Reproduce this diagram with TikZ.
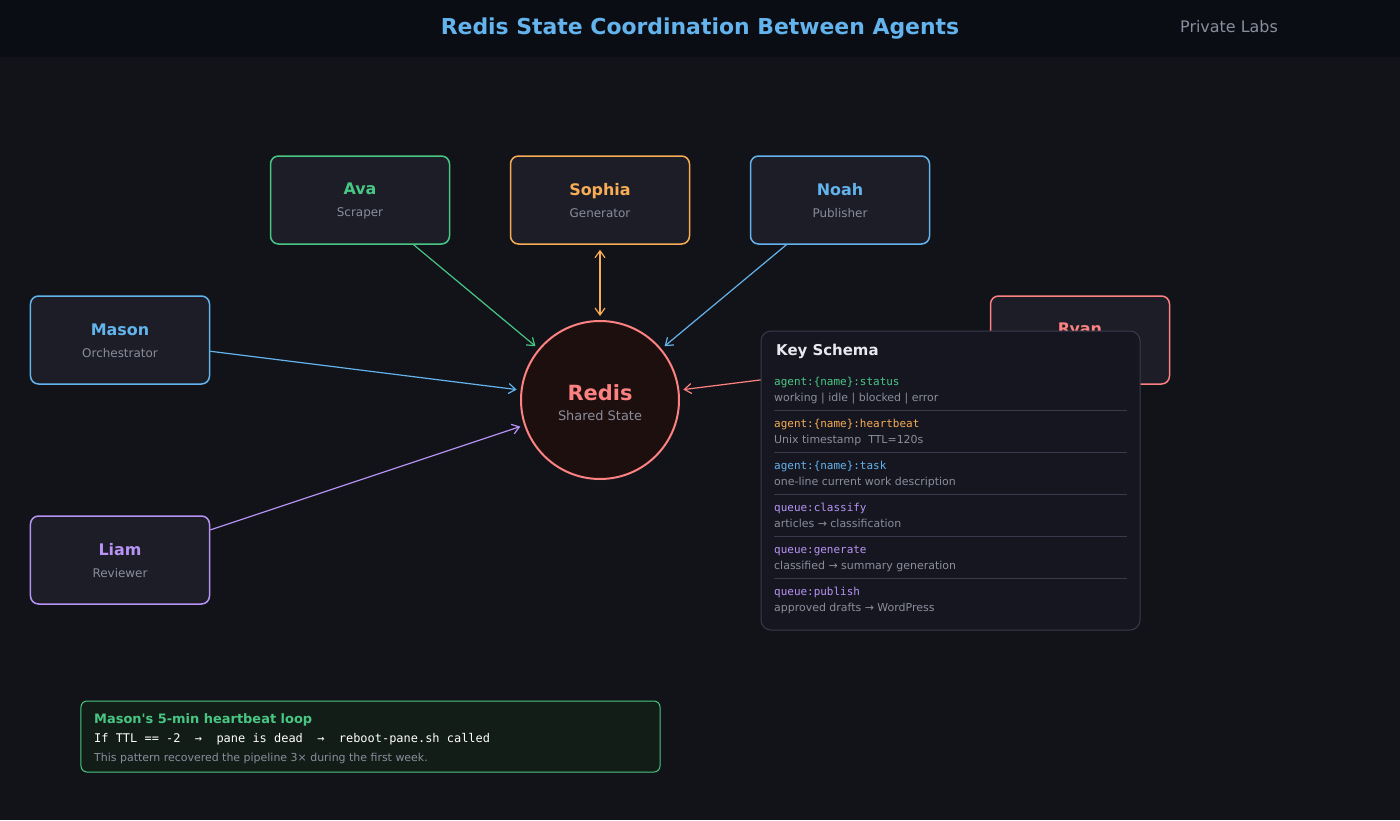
\documentclass[tikz,border=0pt]{standalone}
\usepackage{fontspec}
\setmainfont{DejaVu Sans}
\setmonofont{DejaVu Sans Mono}
\usepackage{xcolor}
\usetikzlibrary{arrows.meta}
\definecolor{PageBg}{RGB}{18,18,25}
\definecolor{HeaderBg}{RGB}{11,13,21}
\definecolor{BoxFill}{RGB}{28,29,39}
\definecolor{PanelFill}{RGB}{22,22,32}
\definecolor{PanelLine}{RGB}{58,58,78}
\definecolor{MutedText}{RGB}{138,141,156}
\definecolor{TitleBlue}{RGB}{99,179,237}
\definecolor{AgentGreen}{RGB}{72,199,132}
\definecolor{AgentOrange}{RGB}{246,173,85}
\definecolor{AgentBlue}{RGB}{99,179,237}
\definecolor{AgentRed}{RGB}{252,129,129}
\definecolor{AgentPurple}{RGB}{183,148,244}
\definecolor{RedisFill}{RGB}{30,15,15}
\definecolor{LoopFill}{RGB}{19,29,23}
\definecolor{SchemaTitle}{RGB}{232,232,240}

\begin{document}
\begin{tikzpicture}[x=1bp,y=-1bp,
    agentbox/.style={draw=#1,fill=BoxFill,line width=1.5bp,rounded corners=8bp,
      minimum width=179bp,minimum height=88bp,align=center,inner sep=0pt,
      font=\fontsize{12}{22}\selectfont},
    link/.style={draw=#1,line width=1.2bp,-{Straight Barb[length=7bp,width=10bp]}},
    plaintext/.style={anchor=base west,inner sep=0pt,text=#1}]

  % page and header band
  \useasboundingbox (0,0) rectangle (1400,820);
  \fill[PageBg] (0,0) rectangle (1400,820);
  \fill[HeaderBg] (0,0) rectangle (1400,57);
  \node[anchor=base,inner sep=0pt,text=TitleBlue,font=\fontsize{22}{22}\selectfont\bfseries]
    (title) at (700,35) {Redis State Coordination Between Agents};
  \node[anchor=base,inner sep=0pt,text=MutedText,font=\fontsize{16}{16}\selectfont]
    (brand) at (1229,33) {Private Labs};

  % shared state
  \node[circle,draw=AgentRed,fill=RedisFill,line width=2bp,minimum size=158bp,
        inner sep=0pt,outer sep=5bp,align=center,font=\fontsize{13}{19.5}\selectfont]
    (redis) at (600,400) {\rule{0pt}{21.5bp}{\fontsize{21}{19.5}\selectfont\bfseries\color{AgentRed}Redis}\\
      {\color{MutedText}Shared State}};

  % agents
  \foreach \id/\x/\y/\col/\nm/\rl in {ava/360/200/AgentGreen/Ava/Scraper,
      sophia/600/200/AgentOrange/Sophia/Generator,
      noah/840/200/AgentBlue/Noah/Publisher,
      mason/120/340/AgentBlue/Mason/Orchestrator,
      ryan/1080/340/AgentRed/Ryan/{\vphantom{p}},
      liam/120/560/AgentPurple/Liam/Reviewer}{
    \node[agentbox=\col] (\id) at (\x,\y)
      {\rule{0pt}{13bp}{\fontsize{16}{22}\selectfont\bfseries\color{\col}\nm}\\
       {\color{MutedText}\rl}};
  }

  \draw[link=AgentGreen] (ava) -- (redis);
  \draw[link=AgentOrange,{Straight Barb[length=7bp,width=10bp]}-{Straight Barb[length=7bp,width=10bp]},
        shorten <=5bp] (sophia) -- (redis);
  \draw[link=AgentBlue] (noah) -- (redis);
  \draw[link=AgentBlue] (mason) -- (redis);
  \draw[link=AgentRed] (ryan) -- (redis);
  \draw[link=AgentPurple] (liam) -- (redis);

  % key schema panel
  \node[draw=PanelLine,fill=PanelFill,line width=1bp,rounded corners=10bp,
        minimum width=379bp,minimum height=299bp,inner sep=0pt] (schema) at (950.5,480.5) {};
  \node[plaintext=SchemaTitle,font=\fontsize{15}{15}\selectfont\bfseries]
    (schematitle) at (776,355.5) {Key Schema};
  \foreach \k/\d/\col [count=\i from 0] in {
      {agent:\{name\}:status}/{working | idle | blocked | error}/AgentGreen,
      {agent:\{name\}:heartbeat}/{Unix timestamp~~TTL=120s}/AgentOrange,
      {agent:\{name\}:task}/{one-line current work description}/AgentBlue,
      {queue:classify}/{articles → classification}/AgentPurple,
      {queue:generate}/{classified → summary generation}/AgentPurple,
      {queue:publish}/{approved drafts → WordPress}/AgentPurple}{
    \node[plaintext=\col,font=\fontsize{11}{11}\selectfont\ttfamily]
      (key\i) at (774,385+42*\i) {\k};
    \node[plaintext=MutedText,font=\fontsize{11}{11}\selectfont]
      (desc\i) at (774,401+42*\i) {\d};
  }
  \foreach \i in {0,...,4}
    \draw[PanelLine,line width=1bp] (774,410+42*\i) -- (1127,410+42*\i);

  % heartbeat note
  \node[draw=AgentGreen,fill=LoopFill,line width=1bp,rounded corners=6bp,
        minimum width=579bp,minimum height=71bp,inner sep=0pt] (loopbox) at (370.5,736.5) {};
  \node[plaintext=AgentGreen,font=\fontsize{13}{13}\selectfont\bfseries]
    (looptitle) at (94,723) {Mason\textquotesingle s 5-min heartbeat loop};
  \node[plaintext=white,font=\fontsize{12}{12}\selectfont\ttfamily]
    (looprule) at (94,742.5) {If TTL == -2~~→~~pane is dead~~→~~reboot-pane.sh called};
  \node[plaintext=MutedText,font=\fontsize{11}{11}\selectfont]
    (loopnote) at (94,761) {This pattern recovered the pipeline 3× during the first week.};
\end{tikzpicture}
\end{document}
